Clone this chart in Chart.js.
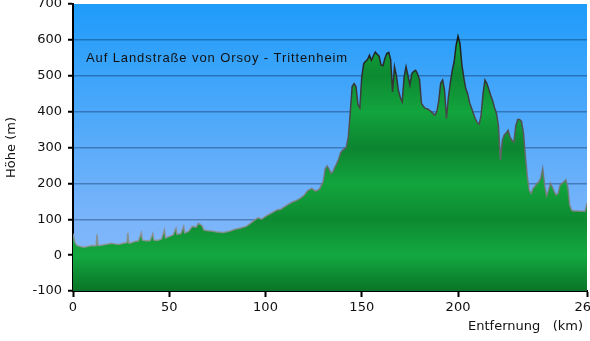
<!DOCTYPE html>
<html>
<head>
<meta charset="utf-8">
<script src="https://cdn.jsdelivr.net/npm/chart.js@4.4.0/dist/chart.umd.min.js"></script>
<style>
  html, body { margin: 0; padding: 0; background: #fff; }
</style>
</head>
<body>
<canvas id="profile" width="590" height="341"></canvas>
<script>
// route profile: distance along the route (km) and elevation (m)
const distanceKm = [
  0, 1, 2, 4, 6, 8, 10, 12, 12.5, 13, 14, 16, 18, 20, 22, 24, 26, 28, 28.5, 29, 30, 32, 34, 35.5, 36, 38, 40,
  41.5, 42, 44, 46, 47.5, 48, 50, 52, 53.5, 54, 56, 57.5, 58, 60, 62, 64, 65, 66, 67, 68, 70, 72, 74, 76,
  78, 80, 82, 84, 86, 88, 90, 92, 94, 96, 98, 100, 102, 104, 106, 108, 110, 112, 114, 116, 118, 120, 122,
  124, 126, 128, 130, 131, 132, 133, 134, 135, 136, 137, 138, 139, 140, 141, 142, 143, 144, 145, 146, 147,
  148, 149, 150, 151, 152, 153, 154, 155, 156, 157, 158, 159, 160, 161, 162, 163, 164, 165, 166, 167, 168,
  169, 170, 171, 172, 173, 174, 175, 176, 177, 178, 179, 180, 181, 182, 183, 184, 185, 186, 187, 188, 189,
  190, 191, 192, 193, 194, 195, 196, 197, 198, 199, 200, 201, 202, 203, 204, 205, 206, 207, 208, 209, 210,
  211, 212, 213, 214, 215, 216, 217, 218, 219, 220, 221, 222, 223, 224, 225, 226, 227, 228, 229, 230, 231,
  232, 233, 234, 235, 236, 237, 238, 239, 240, 241, 242, 243, 244, 245, 246, 247, 248, 249, 250, 251, 252,
  253, 254, 255, 256, 257, 258, 259, 260, 262, 264, 266, 267
];
const elevationM = [
  60, 35, 27, 24, 22, 25, 27, 26, 58, 27, 27, 29, 31, 33, 31, 30, 33, 35, 62, 34, 34, 38, 40, 62, 42, 40, 40,
  60, 42, 41, 45, 70, 48, 52, 56, 75, 58, 60, 80, 62, 66, 80, 78, 88, 86, 82, 70, 68, 67, 65, 64,
  63, 65, 68, 72, 74, 77, 80, 88, 96, 104, 100, 108, 114, 120, 126, 128, 135, 142, 148, 152, 158, 166, 180,
  186, 178, 184, 205, 240, 248, 240, 228, 232, 245, 255, 268, 285, 292, 296, 302, 330, 395, 470, 478, 470,
  420, 410, 497, 534, 540, 545, 557, 543, 555, 566, 560, 555, 530, 528, 548, 562, 565, 545, 455, 525, 500,
  460, 440, 427, 497, 525, 500, 474, 506, 512, 515, 505, 490, 423, 415, 409, 408, 404, 400, 395, 390, 400,
  430, 480, 488, 460, 380, 440, 480, 515, 539, 585, 610, 590, 530, 495, 465, 450, 425, 410, 395, 380, 370,
  365, 390, 450, 488, 478, 462, 445, 430, 410, 395, 360, 265, 320, 335, 340, 348, 330, 320, 315, 360, 378,
  378, 372, 340, 275, 218, 180, 172, 186, 192, 200, 204, 215, 241, 195, 165, 180, 200, 190, 176, 168, 172,
  195, 200, 204, 210, 190, 140, 125, 123, 123, 122, 122, 145
];
const xTicks = [0, 50, 100, 150, 200, 267];
const yMin = -100;
const yMax = 700;
const routeTitle = 'Auf Landstraße von Orsoy - Trittenheim';
const xAxisTitle = 'Entfernung   (km)';
const yAxisTitle = 'Höhe (m)';

const points = distanceKm.map((d, i) => ({x: d, y: elevationM[i]}));

// vertical gradient keyed to elevation values (chart area spans yMin..yMax)
function valueGradient(chart, stops) {
  const a = chart.chartArea;
  if (!a || !isFinite(a.top) || !isFinite(a.bottom)) return 'rgba(0,0,0,0)';
  const g = chart.ctx.createLinearGradient(0, a.top, 0, a.bottom);
  stops.forEach(([v, c]) => g.addColorStop((yMax - v) / (yMax - yMin), c));
  return g;
}

const decor = {
  id: 'decor',
  beforeDraw(chart) {
    const {ctx, chartArea: a} = chart;
    const g = ctx.createLinearGradient(0, a.top, 0, a.bottom);
    g.addColorStop(0, 'rgb(30,156,250)');
    g.addColorStop(0.75, 'rgb(122,180,250)');
    g.addColorStop(1, 'rgb(136,188,250)');
    ctx.save();
    ctx.fillStyle = g;
    ctx.fillRect(a.left, a.top, a.right - a.left, a.bottom - a.top);
    ctx.restore();
  },
  afterDraw(chart) {
    const {ctx, chartArea: a} = chart;
    ctx.save();
    ctx.fillStyle = '#111';
    ctx.font = '13px "Liberation Sans", Arial, sans-serif';
    ctx.letterSpacing = '0.9px';
    ctx.textBaseline = 'middle';
    ctx.fillText(routeTitle, 86, 58);
    ctx.letterSpacing = '0px';
    ctx.font = '13px "DejaVu Sans", Verdana, sans-serif';
    ctx.textAlign = 'right';
    ctx.fillText(xAxisTitle, 583, 327);
    ctx.translate(12, (a.top + a.bottom) / 2);
    ctx.rotate(-Math.PI / 2);
    ctx.textAlign = 'center';
    ctx.fillText(yAxisTitle, 0, 0);
    ctx.restore();
  }
};

new Chart(document.getElementById('profile'), {
  type: 'line',
  data: {
    datasets: [{
      data: points,
      fill: 'start',
      tension: 0,
      pointRadius: 0,
      borderWidth: 1.5,
      borderColor: (c) => valueGradient(c.chart, [
        [0, 'rgba(150,150,150,0.85)'], [200, 'rgba(120,120,120,0.9)'],
        [400, 'rgba(70,70,70,1)'], [600, 'rgba(25,25,25,1)']
      ]),
      backgroundColor: (c) => valueGradient(c.chart, [
        [700, '#0c8430'], [600, '#12a03b'], [500, '#0d8a32'], [400, '#12a43d'],
        [300, '#0c8430'], [200, '#12a53d'], [100, '#0d8a31'], [0, '#13a840'], [-100, '#0a7428']
      ])
    }]
  },
  options: {
    responsive: false,
    animation: false,
    layout: {padding: {left: 0, right: 3, top: 4, bottom: 0}},
    plugins: {legend: {display: false}, tooltip: {enabled: false}, title: {display: false}},
    scales: {
      x: {
        type: 'linear',
        min: 0,
        max: 267,
        z: 1,
        afterBuildTicks: (s) => { s.ticks = xTicks.map(v => ({value: v})); },
        afterFit: (s) => { s.height = 50; s.paddingLeft = 0; s.paddingRight = 0; },
        grid: {drawOnChartArea: false, tickLength: 6, tickWidth: 2, tickColor: '#000'},
        border: {color: '#000', width: 2},
        ticks: {
          padding: 3, maxRotation: 0, autoSkip: false, color: '#111',
          font: {family: '"DejaVu Sans", Verdana, sans-serif', size: 13}
        }
      },
      y: {
        min: yMin,
        max: yMax,
        z: 1,
        afterFit: (s) => { s.width = 73; s.paddingTop = 0; s.paddingBottom = 0; },
        grid: {
          color: (c) => (c.tick.value === yMax || c.tick.value === yMin) ? 'rgba(0,0,0,0)' : 'rgba(0,30,70,0.35)',
          lineWidth: 1.5,
          tickLength: 5, tickWidth: 2, tickColor: '#000'
        },
        border: {color: '#000', width: 2},
        ticks: {
          stepSize: 100, padding: 6, color: '#111',
          font: {family: '"DejaVu Sans", Verdana, sans-serif', size: 13}
        }
      }
    }
  },
  plugins: [decor]
});
</script>
</body>
</html>
